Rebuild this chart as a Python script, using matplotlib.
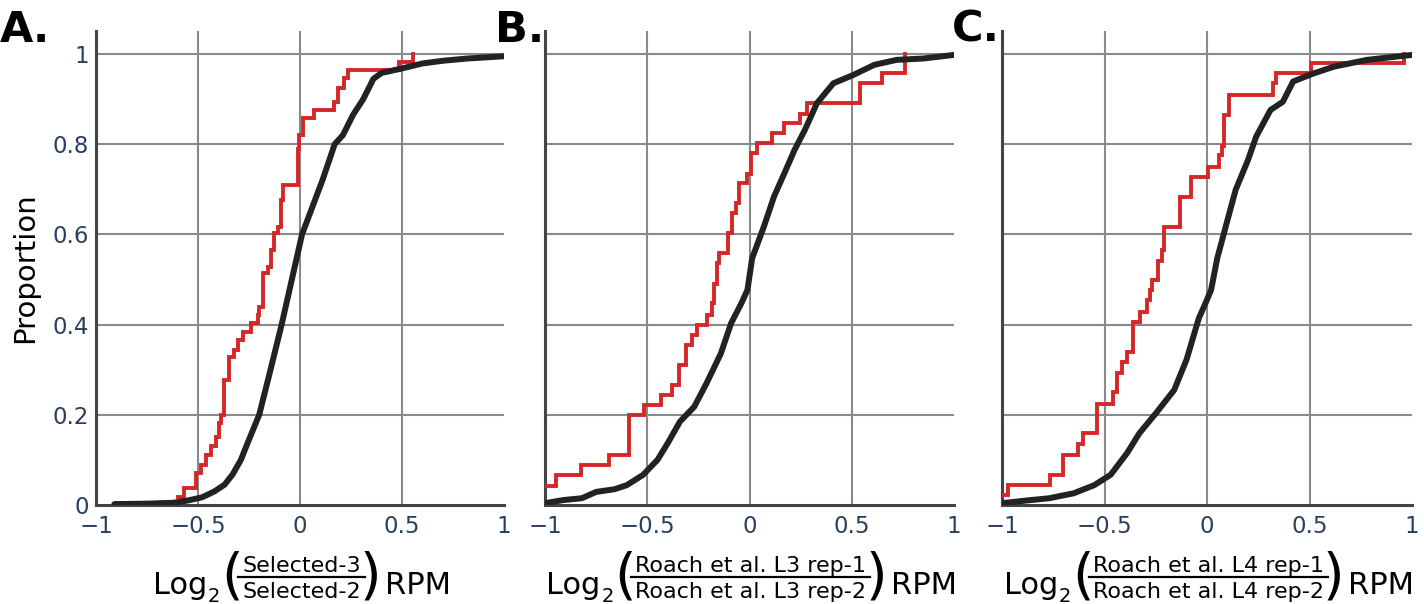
import matplotlib
matplotlib.use('Agg')
import matplotlib.pyplot as plt
from matplotlib.lines import Line2D

plt.rcParams['font.family'] = ['DejaVu Sans']

# ---------------- data ----------------
x_ticks = [-1, -0.5, 0, 0.5, 1]
x_tick_labels = ['\u22121', '\u22120.5', '0', '0.5', '1']
y_ticks = [0, 0.2, 0.4, 0.6, 0.8, 1]
y_tick_labels = ['0', '0.2', '0.4', '0.6', '0.8', '1']
panel_letters = ['A.', 'B.', 'C.']
numerators = ['Selected-3', 'Roach et al. L3 rep-1', 'Roach et al. L4 rep-1']
denominators = ['Selected-2', 'Roach et al. L3 rep-2', 'Roach et al. L4 rep-2']

# red step curves: jump positions and level after jump
red_a_x = [-0.600, -0.567, -0.510, -0.485, -0.461, -0.436, -0.412, -0.396, -0.387, -0.371, -0.346,
           -0.322, -0.305, -0.281, -0.240, -0.207, -0.199, -0.183, -0.158, -0.142, -0.126, -0.109,
           -0.093, -0.085, -0.011, -0.003, 0.013, 0.070, 0.168, 0.185, 0.217, 0.234, 0.487, 0.552]
red_a_y = [0.017, 0.037, 0.070, 0.089, 0.111, 0.130, 0.151, 0.181, 0.200, 0.277, 0.329,
           0.344, 0.366, 0.384, 0.403, 0.421, 0.440, 0.514, 0.528, 0.565, 0.602, 0.617,
           0.676, 0.710, 0.790, 0.820, 0.857, 0.876, 0.894, 0.924, 0.946, 0.965, 0.983, 1.0]

red_b_x = [-1.0, -0.946, -0.824, -0.686, -0.589, -0.516, -0.434, -0.377, -0.345, -0.312, -0.280,
           -0.255, -0.206, -0.182, -0.174, -0.158, -0.150, -0.106, -0.085, -0.068, -0.052, -0.011,
           0.005, 0.037, 0.111, 0.167, 0.249, 0.281, 0.541, 0.647, 0.761]
red_b_y = [0.043, 0.067, 0.089, 0.111, 0.200, 0.222, 0.244, 0.266, 0.310, 0.355, 0.377,
           0.399, 0.421, 0.447, 0.491, 0.536, 0.558, 0.602, 0.647, 0.669, 0.713, 0.735,
           0.780, 0.802, 0.824, 0.846, 0.868, 0.891, 0.935, 0.957, 1.0]

red_c_x = [-0.999, -0.970, -0.766, -0.701, -0.628, -0.603, -0.538, -0.457, -0.440, -0.416, -0.391,
           -0.359, -0.326, -0.293, -0.277, -0.269, -0.237, -0.220, -0.212, -0.131, -0.078, 0.004,
           0.057, 0.073, 0.081, 0.106, 0.322, 0.338, 0.509, 0.961]
red_c_y = [0.022, 0.044, 0.067, 0.111, 0.135, 0.159, 0.225, 0.251, 0.292, 0.318, 0.340,
           0.406, 0.429, 0.455, 0.477, 0.499, 0.540, 0.565, 0.617, 0.684, 0.728, 0.750,
           0.776, 0.795, 0.865, 0.909, 0.935, 0.957, 0.979, 1.0]

# black (all) curves: points along the cumulative curve
black_a_x = [-0.91, -0.75, -0.62, -0.55, -0.48, -0.42, -0.37, -0.33, -0.29, -0.25, -0.20, -0.15,
             -0.09, -0.04, 0.01, 0.06, 0.11, 0.17, 0.21, 0.26, 0.31, 0.36, 0.40, 0.50, 0.60, 0.70,
             0.82, 1.0]
black_a_y = [0.002, 0.003, 0.005, 0.010, 0.017, 0.030, 0.045, 0.068, 0.100, 0.145, 0.200, 0.290,
             0.400, 0.500, 0.600, 0.660, 0.720, 0.800, 0.820, 0.865, 0.900, 0.945, 0.958, 0.968,
             0.979, 0.985, 0.990, 0.995]

black_b_x = [-1.0, -0.91, -0.82, -0.75, -0.66, -0.60, -0.52, -0.45, -0.40, -0.34, -0.27, -0.21,
             -0.14, -0.09, -0.04, -0.01, 0.013, 0.07, 0.12, 0.17, 0.22, 0.27, 0.33, 0.41, 0.51,
             0.61, 0.72, 0.85, 1.0]
black_b_y = [0.004, 0.011, 0.015, 0.029, 0.035, 0.044, 0.067, 0.100, 0.137, 0.185, 0.218, 0.270,
             0.336, 0.403, 0.447, 0.477, 0.547, 0.617, 0.684, 0.735, 0.787, 0.831, 0.891, 0.935,
             0.954, 0.976, 0.987, 0.990, 0.998]

black_c_x = [-1.0, -0.88, -0.77, -0.65, -0.55, -0.47, -0.39, -0.33, -0.25, -0.16, -0.10, -0.04,
             0.0, 0.02, 0.05, 0.10, 0.14, 0.20, 0.24, 0.31, 0.37, 0.42, 0.52, 0.62, 0.78, 1.0]
black_c_y = [0.004, 0.010, 0.015, 0.026, 0.044, 0.067, 0.115, 0.159, 0.203, 0.255, 0.322, 0.414,
             0.455, 0.477, 0.547, 0.632, 0.699, 0.765, 0.817, 0.876, 0.894, 0.939, 0.957, 0.972,
             0.987, 0.998]

reds = [(red_a_x, red_a_y), (red_b_x, red_b_y), (red_c_x, red_c_y)]
blacks = [(black_a_x, black_a_y), (black_b_x, black_b_y), (black_c_x, black_c_y)]

# ---------------- layout ----------------
W, H = 1424, 604
fig = plt.figure(figsize=(W / 100, H / 100), dpi=100)
renderer = fig.canvas.get_renderer()
lefts = [96, 545, 1002]
widths = [408, 409, 410]
ax_bottom_px, ax_top_px = 505, 31
letter_x = [0, 495, 952]

tick_color = '#2a3f5f'
grid_color = '#8a8a8a'
red = '#d62728'
black = '#222222'

MAIN_FS = 22
SUB_FS = 14
FRAC_FS = 16
PAREN_FS = 40


def fx(px):
    return px / W


def fy(py):
    return 1 - py / H


def text_width(s, size):
    t = fig.text(0, 0, s, fontsize=size)
    w = t.get_window_extent(renderer=renderer).width
    t.remove()
    return w


def draw_label(center_px, num, den):
    base = 594.5
    w_log = text_width('Log', MAIN_FS)
    w_sub = text_width('2', SUB_FS)
    w_par = text_width('(', PAREN_FS)
    w_frac = max(text_width(num, FRAC_FS), text_width(den, FRAC_FS)) + 8
    w_rpm = text_width('RPM', MAIN_FS)
    gaps = [0, 1, 1, -5, -5, 4]
    total = w_log + w_sub + 2 * w_par + w_frac + w_rpm + sum(gaps)
    x = center_px - total / 2
    fig.text(fx(x), fy(base), 'Log', fontsize=MAIN_FS, ha='left', va='baseline')
    x += w_log + gaps[1]
    fig.text(fx(x), fy(base + 8), '2', fontsize=SUB_FS, ha='left', va='baseline')
    x += w_sub + gaps[2]
    fig.text(fx(x), fy(578), '(', fontsize=PAREN_FS, ha='left', va='center')
    x += w_par + gaps[3]
    fig.add_artist(Line2D([fx(x), fx(x + w_frac)], [fy(577), fy(577)],
                          transform=fig.transFigure, color='black', lw=1.6))
    fig.text(fx(x + w_frac / 2), fy(572.5), num, fontsize=FRAC_FS, ha='center', va='baseline')
    fig.text(fx(x + w_frac / 2), fy(598.5), den, fontsize=FRAC_FS, ha='center', va='baseline')
    x += w_frac + gaps[4]
    fig.text(fx(x), fy(578), ')', fontsize=PAREN_FS, ha='left', va='center')
    x += w_par + gaps[5]
    fig.text(fx(x), fy(base), 'RPM', fontsize=MAIN_FS, ha='left', va='baseline')


for i in range(3):
    ax = fig.add_axes([lefts[i] / W, (H - ax_bottom_px) / H, widths[i] / W,
                       (ax_bottom_px - ax_top_px) / H])
    ax.set_xlim(-1, 1)
    ax.set_ylim(0, 1.051)
    ax.set_xticks(x_ticks)
    ax.set_xticklabels(x_tick_labels)
    ax.set_yticks(y_ticks)
    if i == 0:
        ax.set_yticklabels(y_tick_labels)
        ax.set_ylabel('Proportion', fontsize=21, color='black', labelpad=10)
    else:
        ax.set_yticklabels([])
    ax.tick_params(length=0, labelsize=16.5, labelcolor=tick_color)
    ax.tick_params(axis='x', pad=7)
    ax.tick_params(axis='y', pad=5)
    ax.grid(True, color=grid_color, lw=1.5)
    ax.set_axisbelow(True)
    ax.xaxis.get_gridlines()[-1].set_visible(False)
    ax.xaxis.get_gridlines()[0].set_visible(False)
    ax.yaxis.get_gridlines()[0].set_visible(False)
    for s in ['top', 'right']:
        ax.spines[s].set_visible(False)
    for s in ['left', 'bottom']:
        ax.spines[s].set_color('#444444')
        ax.spines[s].set_linewidth(2.2)

    rx, ry = reds[i]
    ax.plot(rx, ry, drawstyle='steps-post', color=red, lw=2.8, zorder=3,
            solid_joinstyle='miter')
    bx, by = blacks[i]
    ax.plot(bx, by, color=black, lw=4.3, zorder=4, solid_capstyle='round',
            solid_joinstyle='round')

    draw_label(lefts[i] + widths[i] / 2 + 2, numerators[i], denominators[i])

    fig.text(letter_x[i] / W, 1 - 42 / H, panel_letters[i], fontsize=31, fontweight='bold',
             ha='left', va='baseline', color='black')

fig.savefig('out.png', dpi=100)
